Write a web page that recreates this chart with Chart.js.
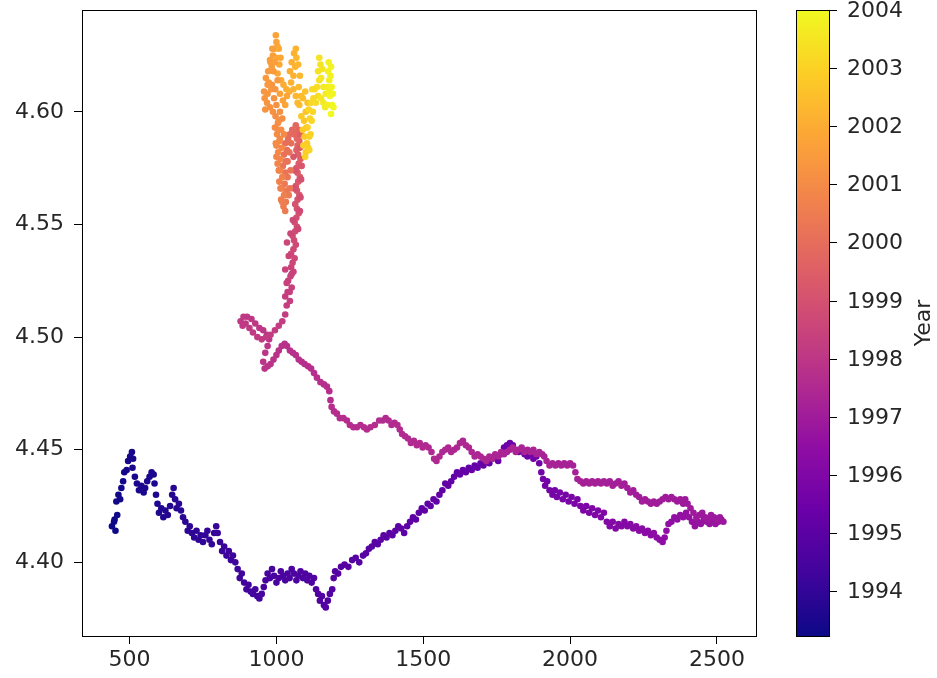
<!DOCTYPE html>
<html>
<head>
<meta charset="utf-8">
<title>Price pair coloured by year</title>
<script src="https://cdn.jsdelivr.net/npm/chart.js@4.4.1/dist/chart.umd.min.js"></script>
<style>
  html, body { margin: 0; padding: 0; background: #fff; }
</style>
</head>
<body>
<canvas id="myChart" width="937" height="678"></canvas>
<script>
// price pair, in time order, split into stretches of the path
// start: first weeks, bottom left
const startX = [440, 447, 452, 449, 458, 455, 462, 468, 472, 478, 482, 490, 495, 502, 508, 512, 510];
const startY = [4.416, 4.418, 4.414, 4.419, 4.421, 4.427, 4.430, 4.428, 4.433, 4.436, 4.440, 4.441, 4.445, 4.447, 4.449, 4.446, 4.442];
const startYear = [1993.23, 1993.24, 1993.26, 1993.27, 1993.29, 1993.30, 1993.32, 1993.33, 1993.35, 1993.36, 1993.38, 1993.39, 1993.41, 1993.42, 1993.44, 1993.45, 1993.47];

const dipX = [518, 525, 532, 540, 548, 553, 560, 568, 575, 582, 585];
const dipY = [4.438, 4.435, 4.432, 4.434, 4.431, 4.433, 4.436, 4.438, 4.440, 4.439, 4.435];
const dipYear = [1993.48, 1993.49, 1993.50, 1993.51, 1993.52, 1993.53, 1993.54, 1993.55, 1993.56, 1993.57, 1993.58];

const slideX = [
  590, 595, 600, 608, 615, 622, 630, 638, 645, 650,
  655, 660, 668, 675, 682, 690, 698, 705, 712, 720,
  728, 735, 742, 750, 758, 765, 772, 780, 788, 795,
  800, 808, 815, 822, 830, 838, 845, 852, 860, 868,
  875, 882, 890, 898, 905, 912, 920, 928, 935, 942,
  950];
const slideY = [
  4.430, 4.426, 4.422, 4.424, 4.420, 4.423, 4.421, 4.425, 4.430, 4.433,
  4.428, 4.424, 4.426, 4.423, 4.420, 4.418, 4.414, 4.416, 4.413, 4.411,
  4.414, 4.410, 4.412, 4.409, 4.412, 4.414, 4.410, 4.408, 4.413, 4.416,
  4.413, 4.409, 4.405, 4.407, 4.403, 4.405, 4.401, 4.403, 4.400, 4.397,
  4.393, 4.395, 4.391, 4.388, 4.390, 4.387, 4.386, 4.388, 4.385, 4.384,
  4.386];
const slideYear = [
  1993.60, 1993.62, 1993.63, 1993.65, 1993.67, 1993.69, 1993.70, 1993.72, 1993.74, 1993.75,
  1993.77, 1993.79, 1993.80, 1993.82, 1993.84, 1993.86, 1993.87, 1993.89, 1993.91, 1993.92,
  1993.94, 1993.96, 1993.97, 1993.99, 1994.01, 1994.03, 1994.04, 1994.06, 1994.08, 1994.09,
  1994.11, 1994.13, 1994.14, 1994.16, 1994.18, 1994.20, 1994.21, 1994.23, 1994.25, 1994.26,
  1994.28, 1994.30, 1994.31, 1994.33, 1994.35, 1994.37, 1994.38, 1994.40, 1994.42, 1994.43,
  1994.45];

const flatX = [
  957, 963, 970, 978, 985, 992, 1000, 1008, 1015, 1022,
  1030, 1038, 1045, 1052, 1060, 1068, 1075, 1082, 1090, 1098,
  1105, 1112, 1120, 1128, 1135, 1142, 1148, 1155, 1162, 1168];
const flatY = [
  4.389, 4.392, 4.395, 4.393, 4.397, 4.394, 4.391, 4.393, 4.396, 4.394,
  4.392, 4.395, 4.393, 4.397, 4.395, 4.392, 4.394, 4.396, 4.393, 4.395,
  4.392, 4.394, 4.391, 4.393, 4.388, 4.386, 4.383, 4.385, 4.381, 4.380];
const flatYear = [
  1994.47, 1994.48, 1994.49, 1994.50, 1994.51, 1994.52, 1994.53, 1994.54, 1994.55, 1994.56,
  1994.57, 1994.58, 1994.59, 1994.60, 1994.61, 1994.62, 1994.63, 1994.64, 1994.65, 1994.66,
  1994.67, 1994.68, 1994.69, 1994.70, 1994.71, 1994.72, 1994.73, 1994.74, 1994.75, 1994.76];

const riseX = [
  1175, 1182, 1190, 1195, 1200, 1210, 1220, 1232, 1245, 1258,
  1270, 1282, 1295, 1305, 1315, 1325, 1335, 1345, 1355, 1365,
  1375, 1385, 1395, 1405, 1415, 1425, 1435, 1445, 1455, 1465,
  1475, 1485, 1495, 1505, 1515, 1525, 1535, 1545, 1555, 1565,
  1575, 1585, 1595, 1605, 1615, 1625, 1635, 1645, 1655, 1665,
  1675, 1685, 1695, 1705, 1715, 1725, 1735, 1745, 1755, 1765,
  1775, 1785, 1795];
const riseY = [
  4.383, 4.386, 4.388, 4.393, 4.396, 4.395, 4.398, 4.399, 4.398, 4.401,
  4.402, 4.400, 4.403, 4.404, 4.406, 4.407, 4.409, 4.408, 4.410, 4.412,
  4.411, 4.413, 4.412, 4.414, 4.416, 4.415, 4.413, 4.416, 4.418, 4.420,
  4.419, 4.422, 4.424, 4.423, 4.426, 4.425, 4.428, 4.427, 4.430, 4.432,
  4.435, 4.434, 4.436, 4.438, 4.440, 4.439, 4.441, 4.440, 4.442, 4.441,
  4.443, 4.442, 4.444, 4.443, 4.445, 4.444, 4.446, 4.447, 4.445, 4.448,
  4.451, 4.452, 4.453];
const riseYear = [
  1994.78, 1994.79, 1994.80, 1994.81, 1994.82, 1994.83, 1994.84, 1994.85, 1994.86, 1994.87,
  1994.88, 1994.89, 1994.90, 1994.91, 1994.92, 1994.93, 1994.94, 1994.95, 1994.96, 1994.97,
  1994.98, 1994.99, 1995.00, 1995.01, 1995.02, 1995.03, 1995.04, 1995.05, 1995.06, 1995.07,
  1995.08, 1995.09, 1995.10, 1995.11, 1995.12, 1995.13, 1995.14, 1995.15, 1995.16, 1995.17,
  1995.18, 1995.19, 1995.20, 1995.21, 1995.22, 1995.23, 1995.24, 1995.25, 1995.26, 1995.27,
  1995.28, 1995.29, 1995.30, 1995.31, 1995.32, 1995.33, 1995.34, 1995.35, 1995.36, 1995.37,
  1995.38, 1995.39, 1995.40];

const fallX = [
  1805, 1815, 1825, 1835, 1845, 1855, 1865, 1875, 1885, 1895,
  1902, 1908, 1915, 1922, 1930, 1940, 1948, 1955, 1965, 1975,
  1985, 1995, 2005, 2015, 2025, 2035, 2045, 2055, 2065, 2075,
  2085, 2095, 2105, 2115, 2125, 2135, 2145, 2155, 2165, 2175,
  2185, 2195, 2205, 2215, 2225, 2235, 2245, 2255, 2265, 2275,
  2285, 2295, 2305, 2315, 2322, 2328, 2335, 2345, 2355, 2365,
  2375, 2385, 2395, 2405, 2415, 2425, 2435, 2445, 2455, 2465,
  2475, 2485, 2495, 2505, 2515, 2522];
const fallY = [
  4.452, 4.450, 4.449, 4.450, 4.448, 4.447, 4.448, 4.446, 4.447, 4.444,
  4.440, 4.437, 4.434, 4.436, 4.432, 4.430, 4.432, 4.429, 4.431, 4.428,
  4.430, 4.427, 4.429, 4.426, 4.428, 4.425, 4.423, 4.425, 4.422, 4.424,
  4.421, 4.423, 4.420, 4.422, 4.418, 4.416, 4.418, 4.415, 4.417, 4.416,
  4.418, 4.416, 4.417, 4.415, 4.416, 4.414, 4.415, 4.413, 4.414, 4.412,
  4.413, 4.411, 4.410, 4.409, 4.411, 4.414, 4.417, 4.418, 4.420, 4.419,
  4.421, 4.420, 4.422, 4.420, 4.418, 4.416, 4.418, 4.417, 4.419, 4.418,
  4.417, 4.418, 4.417, 4.418, 4.419, 4.418];
const fallYear = [
  1995.42, 1995.44, 1995.46, 1995.48, 1995.50, 1995.52, 1995.53, 1995.55, 1995.57, 1995.59,
  1995.61, 1995.63, 1995.65, 1995.67, 1995.69, 1995.71, 1995.72, 1995.74, 1995.76, 1995.78,
  1995.80, 1995.82, 1995.84, 1995.86, 1995.88, 1995.90, 1995.91, 1995.93, 1995.95, 1995.97,
  1995.99, 1996.01, 1996.03, 1996.05, 1996.07, 1996.09, 1996.10, 1996.12, 1996.14, 1996.16,
  1996.18, 1996.20, 1996.22, 1996.24, 1996.26, 1996.28, 1996.29, 1996.31, 1996.33, 1996.35,
  1996.37, 1996.39, 1996.41, 1996.43, 1996.45, 1996.47, 1996.48, 1996.50, 1996.52, 1996.54,
  1996.56, 1996.58, 1996.60, 1996.62, 1996.64, 1996.66, 1996.67, 1996.69, 1996.71, 1996.73,
  1996.75, 1996.77, 1996.79, 1996.81, 1996.83, 1996.85];

// way back to the left, above the first pass
const backX = [
  2510, 2500, 2490, 2480, 2470, 2460, 2450, 2440, 2430, 2420,
  2410, 2400, 2392, 2385, 2375, 2365, 2355, 2345, 2335, 2325,
  2315, 2305, 2295, 2285, 2275, 2265, 2255, 2245, 2235, 2225,
  2215, 2205, 2195, 2185, 2175, 2165, 2155, 2145, 2135, 2125,
  2115, 2105, 2095, 2085, 2075, 2065, 2055, 2045, 2035, 2025,
  2018, 2010, 2000, 1990, 1980, 1970, 1960, 1950, 1940, 1930,
  1920, 1912, 1905, 1895, 1885, 1875, 1865, 1855, 1845, 1835,
  1825, 1815, 1805, 1795, 1785, 1775, 1765, 1755, 1745, 1735,
  1725, 1715, 1705, 1695, 1685, 1675, 1665, 1655, 1645, 1635,
  1625, 1615, 1605, 1595, 1585, 1575, 1565, 1555, 1545, 1537,
  1528, 1518, 1508, 1498, 1488, 1478, 1468, 1458, 1448, 1438,
  1428, 1420, 1412, 1402, 1392, 1382, 1372, 1362, 1350, 1335,
  1320, 1308, 1298, 1286, 1274, 1262, 1250, 1240, 1228, 1216,
  1206, 1196, 1188, 1184, 1180, 1172, 1162, 1150, 1138, 1128,
  1118, 1108, 1096, 1086, 1076, 1066, 1056, 1046, 1036, 1028];
const backY = [
  4.420, 4.419, 4.420, 4.421, 4.419, 4.420, 4.422, 4.421, 4.420, 4.422,
  4.424, 4.426, 4.428, 4.426, 4.428, 4.427, 4.428, 4.429, 4.428, 4.429,
  4.428, 4.427, 4.426, 4.427, 4.426, 4.427, 4.428, 4.427, 4.429, 4.430,
  4.432, 4.431, 4.433, 4.435, 4.434, 4.436, 4.435, 4.434, 4.436, 4.435,
  4.436, 4.435, 4.436, 4.435, 4.436, 4.435, 4.436, 4.435, 4.436, 4.437,
  4.440, 4.443, 4.444, 4.443, 4.444, 4.443, 4.444, 4.443, 4.444, 4.443,
  4.445, 4.447, 4.448, 4.449, 4.448, 4.450, 4.449, 4.450, 4.449, 4.451,
  4.450, 4.449, 4.451, 4.450, 4.449, 4.448, 4.449, 4.447, 4.448, 4.446,
  4.447, 4.445, 4.446, 4.447, 4.448, 4.447, 4.449, 4.451, 4.452, 4.454,
  4.453, 4.451, 4.450, 4.449, 4.451, 4.450, 4.449, 4.447, 4.445, 4.446,
  4.449, 4.451, 4.452, 4.451, 4.453, 4.452, 4.454, 4.453, 4.455, 4.456,
  4.457, 4.459, 4.461, 4.462, 4.461, 4.463, 4.464, 4.463, 4.463, 4.461,
  4.460, 4.459, 4.460, 4.461, 4.460, 4.460, 4.461, 4.463, 4.464, 4.464,
  4.466, 4.467, 4.469, 4.472, 4.476, 4.478, 4.479, 4.480, 4.482, 4.484,
  4.486, 4.487, 4.488, 4.489, 4.490, 4.492, 4.493, 4.494, 4.496, 4.497];
const backYear = [
  1996.870, 1996.876, 1996.882, 1996.889, 1996.895, 1996.901, 1996.907, 1996.913, 1996.920, 1996.926,
  1996.932, 1996.938, 1996.944, 1996.951, 1996.957, 1996.963, 1996.969, 1996.975, 1996.982, 1996.988,
  1996.994, 1997.000, 1997.006, 1997.013, 1997.019, 1997.025, 1997.031, 1997.037, 1997.044, 1997.050,
  1997.056, 1997.062, 1997.068, 1997.075, 1997.081, 1997.087, 1997.093, 1997.099, 1997.106, 1997.112,
  1997.118, 1997.124, 1997.130, 1997.137, 1997.143, 1997.149, 1997.155, 1997.161, 1997.168, 1997.174,
  1997.180, 1997.186, 1997.192, 1997.199, 1997.205, 1997.211, 1997.217, 1997.223, 1997.230, 1997.236,
  1997.242, 1997.248, 1997.254, 1997.261, 1997.267, 1997.273, 1997.279, 1997.285, 1997.292, 1997.298,
  1997.304, 1997.310, 1997.316, 1997.323, 1997.329, 1997.335, 1997.341, 1997.347, 1997.354, 1997.360,
  1997.366, 1997.372, 1997.378, 1997.385, 1997.391, 1997.397, 1997.403, 1997.409, 1997.416, 1997.422,
  1997.428, 1997.434, 1997.440, 1997.447, 1997.453, 1997.459, 1997.465, 1997.471, 1997.478, 1997.484,
  1997.490, 1997.496, 1997.502, 1997.509, 1997.515, 1997.521, 1997.527, 1997.533, 1997.540, 1997.546,
  1997.552, 1997.558, 1997.564, 1997.571, 1997.577, 1997.583, 1997.589, 1997.595, 1997.602, 1997.608,
  1997.614, 1997.620, 1997.626, 1997.633, 1997.639, 1997.645, 1997.651, 1997.657, 1997.664, 1997.670,
  1997.676, 1997.682, 1997.688, 1997.695, 1997.701, 1997.707, 1997.713, 1997.719, 1997.726, 1997.732,
  1997.738, 1997.744, 1997.750, 1997.757, 1997.763, 1997.769, 1997.775, 1997.781, 1997.788, 1997.794];

const loopX = [
  1018, 1008, 1000, 990, 980, 970, 960, 955, 962, 970,
  975, 968, 955, 942, 928, 915, 900, 888, 878, 885,
  895, 908, 920, 935, 950, 965, 980, 995, 1008, 1020,
  1030, 1035, 1030, 1038];
const loopY = [
  4.496, 4.494, 4.492, 4.490, 4.488, 4.487, 4.486, 4.489, 4.493, 4.496,
  4.499, 4.501, 4.503, 4.504, 4.506, 4.508, 4.509, 4.509, 4.507, 4.505,
  4.506, 4.504, 4.502, 4.500, 4.499, 4.500, 4.501, 4.503, 4.505, 4.507,
  4.510, 4.514, 4.518, 4.520];
const loopYear = [
  1997.810, 1997.825, 1997.840, 1997.855, 1997.870, 1997.885, 1997.900, 1997.915, 1997.930, 1997.945,
  1997.960, 1997.975, 1997.990, 1998.005, 1998.020, 1998.035, 1998.050, 1998.065, 1998.080, 1998.095,
  1998.110, 1998.125, 1998.140, 1998.155, 1998.170, 1998.185, 1998.200, 1998.215, 1998.230, 1998.245,
  1998.260, 1998.275, 1998.290, 1998.305];

// the climb up the middle
const climbX = [
  1045, 1052, 1040, 1048, 1058, 1050, 1055, 1062, 1050, 1058,
  1066, 1060, 1055, 1064, 1070, 1062, 1068, 1076, 1070, 1064,
  1072, 1078, 1070, 1066, 1074, 1080, 1072, 1068, 1076, 1082,
  1074, 1068, 1072, 1078, 1070, 1064, 1070, 1060, 1054, 1046];
const climbY = [
  4.520, 4.522, 4.525, 4.527, 4.529, 4.531, 4.533, 4.535, 4.537, 4.539,
  4.541, 4.543, 4.545, 4.547, 4.549, 4.551, 4.553, 4.555, 4.557, 4.559,
  4.561, 4.563, 4.565, 4.567, 4.569, 4.571, 4.573, 4.575, 4.577, 4.579,
  4.581, 4.583, 4.585, 4.587, 4.589, 4.591, 4.588, 4.590, 4.592, 4.590];
const climbYear = [
  1998.32, 1998.36, 1998.40, 1998.44, 1998.48, 1998.52, 1998.56, 1998.60, 1998.64, 1998.68,
  1998.72, 1998.76, 1998.80, 1998.84, 1998.88, 1998.92, 1998.96, 1999.00, 1999.04, 1999.08,
  1999.12, 1999.16, 1999.20, 1999.24, 1999.28, 1999.32, 1999.36, 1999.40, 1999.44, 1999.48,
  1999.52, 1999.56, 1999.60, 1999.64, 1999.68, 1999.72, 1999.76, 1999.80, 1999.84, 1999.88];

// second set of days in the same column (the path goes up and down it)
const climb2X = [1046, 1035, 1030, 1052, 1042, 1036, 1048, 1074, 1056, 1080,
                 1060, 1082, 1062, 1084, 1058, 1086, 1080, 1082, 1076, 1066];
const climb2Y = [4.516, 4.524, 4.530, 4.528, 4.536, 4.542, 4.546, 4.548, 4.552, 4.556,
                 4.566, 4.562, 4.574, 4.570, 4.580, 4.576, 4.584, 4.590, 4.592, 4.594];
const climb2Year = [1998.30, 1998.38, 1998.44, 1998.42, 1998.52, 1998.58, 1998.64, 1998.66, 1998.72, 1998.78,
                    1998.96, 1998.88, 1999.12, 1999.04, 1999.24, 1999.16, 1999.32, 1999.50, 1999.70, 1999.85];

// orange: down the left column, then up to the top
const topX = [
  1040, 1030, 1036, 1026, 1032, 1022, 1030, 1038, 1028, 1034,
  1042, 1032, 1024, 1016, 1026, 1018, 1010, 1020, 1012, 1004,
  1014, 1006, 1000, 1010, 1002, 995, 1005, 997, 988, 978,
  968, 960, 970, 982, 974, 964, 972, 984, 978, 988,
  994, 1000, 998, 1004, 1000, 1010, 1004, 1016, 1024, 1034,
  1044, 1050, 1058, 1064, 1068, 1074, 1080, 1076, 1084, 1078];
const topY = [
  4.588, 4.586, 4.583, 4.581, 4.578, 4.576, 4.573, 4.571, 4.568, 4.565,
  4.563, 4.560, 4.558, 4.561, 4.563, 4.566, 4.569, 4.571, 4.574, 4.577,
  4.579, 4.582, 4.585, 4.587, 4.590, 4.593, 4.595, 4.598, 4.600, 4.602,
  4.604, 4.606, 4.608, 4.610, 4.613, 4.615, 4.618, 4.620, 4.623, 4.625,
  4.628, 4.631, 4.634, 4.629, 4.624, 4.621, 4.617, 4.614, 4.612, 4.610,
  4.609, 4.613, 4.616, 4.620, 4.624, 4.621, 4.616, 4.611, 4.607, 4.603];
const topYear = [
  2000.00, 2000.04, 2000.08, 2000.13, 2000.17, 2000.21, 2000.25, 2000.29, 2000.34, 2000.38,
  2000.42, 2000.46, 2000.50, 2000.55, 2000.59, 2000.63, 2000.67, 2000.71, 2000.76, 2000.80,
  2000.84, 2000.88, 2000.92, 2000.97, 2001.01, 2001.05, 2001.09, 2001.13, 2001.18, 2001.22,
  2001.26, 2001.30, 2001.34, 2001.39, 2001.43, 2001.47, 2001.51, 2001.55, 2001.60, 2001.64,
  2001.68, 2001.72, 2001.76, 2001.81, 2001.85, 2001.89, 2001.93, 2001.97, 2002.02, 2002.06,
  2002.10, 2002.14, 2002.18, 2002.23, 2002.27, 2002.31, 2002.35, 2002.39, 2002.44, 2002.48];

// more orange days in the left column and the top blob
const top2X = [
  1000, 1008, 1014, 1020, 1030, 1046, 1048, 1044, 1050, 1006,
  1018, 1026, 1038, 1012, 998, 985, 992, 1000, 1012, 1020,
  1016, 1008, 996, 1004, 990, 980, 970, 958, 962, 1012,
  1022, 1030, 1036, 1046, 1052, 1060, 1066, 1058, 1066, 1072,
  1008, 1014, 994, 986];
const top2Y = [
  4.580, 4.574, 4.566, 4.560, 4.556, 4.566, 4.574, 4.582, 4.586, 4.592,
  4.584, 4.590, 4.578, 4.588, 4.586, 4.612, 4.606, 4.603, 4.600, 4.597,
  4.592, 4.596, 4.610, 4.614, 4.618, 4.622, 4.612, 4.609, 4.601, 4.608,
  4.605, 4.603, 4.607, 4.618, 4.622, 4.626, 4.628, 4.610, 4.607, 4.604,
  4.628, 4.624, 4.622, 4.628];
const top2Year = [
  2000.85, 2000.75, 2000.62, 2000.52, 2000.48, 2000.30, 2000.22, 2000.12, 2000.06, 2000.98,
  2000.90, 2000.95, 2000.18, 2000.93, 2001.02, 2001.30, 2001.25, 2001.20, 2001.15, 2001.10,
  2001.05, 2001.12, 2001.35, 2001.45, 2001.50, 2001.55, 2001.40, 2001.33, 2001.28, 2001.70,
  2001.75, 2001.80, 2001.85, 2002.05, 2002.10, 2002.15, 2002.20, 2002.25, 2002.30, 2002.35,
  2001.90, 2001.88, 2001.60, 2001.65];

// yellow: last stretch, to the right of the top
const endX = [
  1090, 1098, 1106, 1100, 1094, 1102, 1096, 1104, 1100, 1108,
  1112, 1106, 1114, 1110, 1118, 1126, 1134, 1142, 1138, 1146,
  1142, 1150, 1156, 1152, 1160, 1168, 1174, 1180, 1176, 1184,
  1188, 1182, 1190, 1186];
const endY = [
  4.606, 4.609, 4.604, 4.600, 4.596, 4.593, 4.589, 4.586, 4.582, 4.584,
  4.589, 4.593, 4.597, 4.601, 4.604, 4.606, 4.604, 4.607, 4.611, 4.614,
  4.618, 4.621, 4.619, 4.615, 4.611, 4.608, 4.611, 4.614, 4.618, 4.616,
  4.611, 4.607, 4.603, 4.599];
const endYear = [
  2002.52, 2002.56, 2002.61, 2002.65, 2002.70, 2002.74, 2002.79, 2002.83, 2002.88, 2002.92,
  2002.97, 2003.01, 2003.06, 2003.10, 2003.15, 2003.19, 2003.24, 2003.28, 2003.33, 2003.37,
  2003.42, 2003.46, 2003.51, 2003.55, 2003.60, 2003.64, 2003.69, 2003.73, 2003.78, 2003.82,
  2003.87, 2003.91, 2003.96, 2004.00];

const end2X = [1085, 1090, 1092, 1098, 1112, 1116, 1120, 1124, 1130, 1122,
               1160, 1152, 1166, 1174, 1180, 1186, 1178, 1192, 1194, 1146];
const end2Y = [4.598, 4.592, 4.585, 4.580, 4.583, 4.590, 4.596, 4.600, 4.610, 4.610,
               4.604, 4.606, 4.602, 4.603, 4.609, 4.620, 4.622, 4.608, 4.602, 4.624];
const end2Year = [2002.80, 2002.85, 2002.95, 2003.00, 2003.05, 2003.08, 2003.12, 2003.16, 2003.30, 2003.26,
                  2003.60, 2003.52, 2003.66, 2003.75, 2003.80, 2003.85, 2003.80, 2003.93, 2003.97, 2003.48];

const xTicks = [500, 1000, 1500, 2000, 2500];
const yTicks = [4.40, 4.45, 4.50, 4.55, 4.60];
const yearTicks = [1994, 1995, 1996, 1997, 1998, 1999, 2000, 2001, 2002, 2003, 2004];

const parts = [
  [startX, startY, startYear], [dipX, dipY, dipYear], [slideX, slideY, slideYear],
  [flatX, flatY, flatYear], [riseX, riseY, riseYear], [fallX, fallY, fallYear],
  [backX, backY, backYear], [loopX, loopY, loopYear], [climbX, climbY, climbYear],
  [climb2X, climb2Y, climb2Year], [topX, topY, topYear], [top2X, top2Y, top2Year],
  [endX, endY, endYear], [end2X, end2Y, end2Year]
];

const points = [];
const years = [];
parts.forEach((p, i) => {
  if (p[0].length !== p[1].length || p[0].length !== p[2].length) {
    throw new Error("part " + i + " lengths " + p[0].length + "/" + p[1].length + "/" + p[2].length);
  }
  p[0].forEach((x, j) => {
    points.push({ x: x, y: p[1][j] });
    years.push(p[2][j]);
  });
});

const yearMin = Math.min(...years);
const yearMax = Math.max(...years);

// matplotlib plasma, 11 stops
const plasmaStops = ["#0d0887", "#41049d", "#6a00a8", "#8f0da4", "#b12a90", "#cc4778",
                     "#e16462", "#f2844b", "#fca636", "#fcce25", "#f0f921"];

function hexToRgb(h) {
  return [parseInt(h.slice(1, 3), 16), parseInt(h.slice(3, 5), 16), parseInt(h.slice(5, 7), 16)];
}

function plasma(t) {
  t = Math.max(0, Math.min(1, t));
  const pos = t * (plasmaStops.length - 1);
  const i = Math.min(Math.floor(pos), plasmaStops.length - 2);
  const f = pos - i;
  const a = hexToRgb(plasmaStops[i]);
  const b = hexToRgb(plasmaStops[i + 1]);
  const c = a.map((v, k) => Math.round(v + (b[k] - v) * f));
  return "rgb(" + c[0] + "," + c[1] + "," + c[2] + ")";
}

const pointColors = years.map((yr) => plasma((yr - yearMin) / (yearMax - yearMin)));

const textColor = "#262626";
const fontFamily = "'DejaVu Sans', sans-serif";
const fontSize = 22;

// box round the plot
const frame = {
  id: "frame",
  afterDraw(chart) {
    const a = chart.chartArea;
    const ctx = chart.ctx;
    ctx.save();
    ctx.strokeStyle = "#000";
    ctx.lineWidth = 1;
    ctx.strokeRect(Math.round(a.left) + 0.5, Math.round(a.top) + 0.5,
                   Math.round(a.right - a.left), Math.round(a.bottom - a.top));
    ctx.restore();
  }
};

// colour bar on the right
const colorbar = {
  id: "colorbar",
  afterDraw(chart) {
    const ctx = chart.ctx;
    const a = chart.chartArea;
    const left = 796, right = 829;
    const top = Math.round(a.top), bottom = Math.round(a.bottom);
    const grad = ctx.createLinearGradient(0, bottom, 0, top);
    plasmaStops.forEach((c, i) => grad.addColorStop(i / (plasmaStops.length - 1), c));
    ctx.save();
    ctx.fillStyle = grad;
    ctx.fillRect(left, top, right - left, bottom - top);
    ctx.strokeStyle = "#000";
    ctx.lineWidth = 1;
    ctx.strokeRect(left + 0.5, top + 0.5, right - left, bottom - top);

    ctx.font = fontSize + "px " + fontFamily;
    ctx.fillStyle = textColor;
    ctx.textAlign = "left";
    ctx.textBaseline = "middle";
    yearTicks.forEach((yr) => {
      const y = Math.round(bottom - (yr - yearMin) / (yearMax - yearMin) * (bottom - top)) + 0.5;
      ctx.beginPath();
      ctx.moveTo(right, y);
      ctx.lineTo(right + 8, y);
      ctx.stroke();
      ctx.fillText(String(yr), right + 18, y + 1);
    });

    ctx.translate(924, (top + bottom) / 2);
    ctx.rotate(-Math.PI / 2);
    ctx.textAlign = "center";
    ctx.fillText("Year", 0, 0);
    ctx.restore();
  }
};

const ctx = document.getElementById("myChart").getContext("2d");
const myChart = new Chart(ctx, {
  type: "scatter",
  data: {
    datasets: [
      {
        label: "Price pair",
        data: points,
        backgroundColor: pointColors,
        borderWidth: 0,
        pointRadius: 3.3,
        pointHoverRadius: 3.3
      }
    ]
  },
  options: {
    responsive: false,
    animation: false,
    devicePixelRatio: 1,
    layout: { padding: { left: 0, right: 181, top: 10, bottom: 0 } },
    plugins: {
      legend: { display: false },
      tooltip: { enabled: false }
    },
    scales: {
      x: {
        type: "linear",
        min: 338,
        max: 2633,
        afterBuildTicks: (s) => { s.ticks = xTicks.map((v) => ({ value: v })); },
        afterFit: (s) => { s.height = 42; s.paddingLeft = 0; s.paddingRight = 0; },
        border: { display: true, color: "#000", width: 1 },
        grid: { drawOnChartArea: false, drawTicks: true, tickLength: 8, color: "#000" },
        ticks: {
          maxRotation: 0,
          autoSkip: false,
          padding: 3,
          color: textColor,
          font: { family: fontFamily, size: fontSize },
          callback: (v) => String(v)
        }
      },
      y: {
        type: "linear",
        min: 4.3673,
        max: 4.6452,
        afterBuildTicks: (s) => { s.ticks = yTicks.map((v) => ({ value: v })); },
        afterFit: (s) => { s.width = 82; s.paddingTop = 0; s.paddingBottom = 0; },
        border: { display: true, color: "#000", width: 1 },
        grid: { drawOnChartArea: false, drawTicks: true, tickLength: 8, color: "#000" },
        ticks: {
          autoSkip: false,
          padding: 10,
          color: textColor,
          font: { family: fontFamily, size: fontSize },
          callback: (v) => v.toFixed(2)
        }
      }
    }
  },
  plugins: [frame, colorbar]
});
</script>
</body>
</html>
